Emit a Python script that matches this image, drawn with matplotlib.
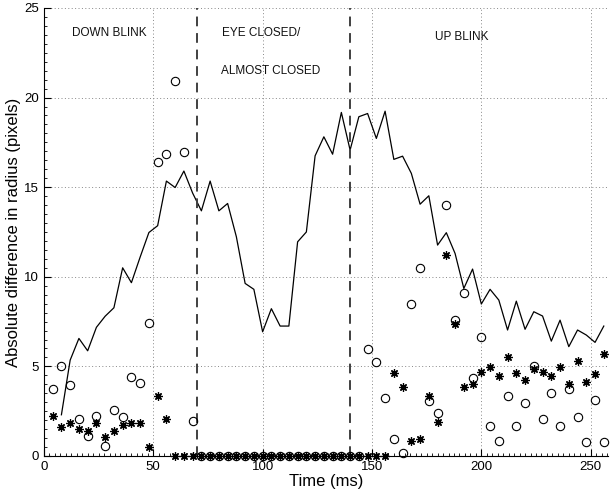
import numpy as np
import matplotlib
matplotlib.use("Agg")
import matplotlib.pyplot as plt
from matplotlib.ticker import MultipleLocator

plt.rcParams['font.family'] = ['Liberation Sans', 'DejaVu Sans']

# sample times (ms)
t_line = list(range(8, 257, 4))
line_vals = [2.3, 5.35, 6.56, 5.87, 7.18, 7.8, 8.27, 10.5, 9.67, 11.1,
             12.47, 12.85, 15.34, 14.98, 15.9, 14.67, 13.68, 15.34, 13.68, 14.09,
             12.23, 9.63, 9.3, 6.93, 8.22, 7.25, 7.25, 11.95, 12.5, 16.75,
             17.81, 16.84, 19.17, 17.07, 18.93, 19.11, 17.72, 19.24, 16.55, 16.73,
             15.77, 14.05, 14.52, 11.77, 12.46, 11.3, 9.35, 10.43, 8.48, 9.3,
             8.7, 7.03, 8.64, 7.07, 8.05, 7.81, 6.41, 7.58, 6.1, 7.03,
             6.75, 6.34, 7.25]

t_pts = list(range(4, 257, 4))
circle_vals = [3.74, 5.02, 3.96, 2.08, 1.12, 2.25, 0.56, 2.58, 2.16, 4.39,
               4.09, 7.42, 16.38, 16.83, 20.93, 16.97, 1.97,
               0, 0, 0, 0, 0, 0, 0, 0, 0, 0, 0, 0, 0, 0, 0, 0, 0, 0, 0,
               5.95, 5.22, 3.25, 0.95, 0.19, 8.48, 10.49, 3.07, 2.38, 14.0,
               7.59, 9.11, 4.33, 6.62, 1.69, 0.86, 3.36, 1.69, 2.96, 5.04,
               2.06, 3.5, 1.66, 3.72, 2.16, 0.76, 3.12, 0.8]
star_vals = [2.25, 1.6, 1.86, 1.51, 1.39, 1.86, 1.04, 1.39, 1.73, 1.86,
             1.82, 0.52, 3.35, 2.06,
             0, 0, 0, 0, 0, 0, 0, 0, 0, 0, 0, 0, 0, 0, 0, 0, 0, 0, 0, 0,
             0, 0, 0, 0, 0,
             4.65, 3.87, 0.86, 0.95, 3.36, 1.88, 11.21, 7.36, 3.87, 4.02,
             4.7, 4.98, 4.46, 5.54, 4.61, 4.24, 4.83, 4.67, 4.46, 4.95,
             4.02, 5.3, 4.11, 4.57, 5.69]

phase_bounds = [70, 140]
labels = [("DOWN BLINK", 13, 23.6), ("EYE CLOSED/", 81.5, 23.6),
          ("ALMOST CLOSED", 81, 21.5), ("UP BLINK", 179, 23.4)]

fig = plt.figure(figsize=(6.1, 4.97), dpi=100)
ax = fig.add_axes([0.072, 0.0825, 0.925, 0.9015])

ax.plot(t_line, line_vals, color='black', linewidth=0.9)
ax.plot(t_pts, circle_vals, linestyle='none', marker='o', markersize=6,
        markerfacecolor='none', markeredgecolor='black', markeredgewidth=0.8,
        clip_on=False, zorder=3)
ax.plot(t_pts, star_vals, linestyle='none', marker=(8, 2, 0), markersize=6,
        color='black', markeredgewidth=0.9, clip_on=False, zorder=3)

for b in phase_bounds:
    ax.plot([b, b], [0, 25], color='#404040', linestyle=(0, (5, 3.5)), linewidth=1.4)

for txt, x, y in labels:
    ax.text(x, y, txt, fontsize=8.5, ha='left', va='center', color='#111111')

ax.set_xlim(0, 258)
ax.set_ylim(0, 25)
ax.set_xticks([0, 50, 100, 150, 200, 250])
ax.set_yticks([0, 5, 10, 15, 20, 25])
ax.yaxis.set_minor_locator(MultipleLocator(0.5))
ax.xaxis.set_minor_locator(MultipleLocator(2.5))
ax.grid(True, linestyle=(0, (1, 2.5)), color='#888888', linewidth=0.7)
ax.tick_params(direction='in', length=5, labelsize=9.5)
ax.tick_params(which='minor', direction='in', length=2)
ax.spines['top'].set_visible(False)
ax.spines['right'].set_visible(False)

ax.set_xlabel('Time (ms)', fontsize=12, labelpad=1)
ax.set_ylabel('Absolute difference in radius (pixels)', fontsize=12, labelpad=2)

fig.savefig('out.png', dpi=100)
